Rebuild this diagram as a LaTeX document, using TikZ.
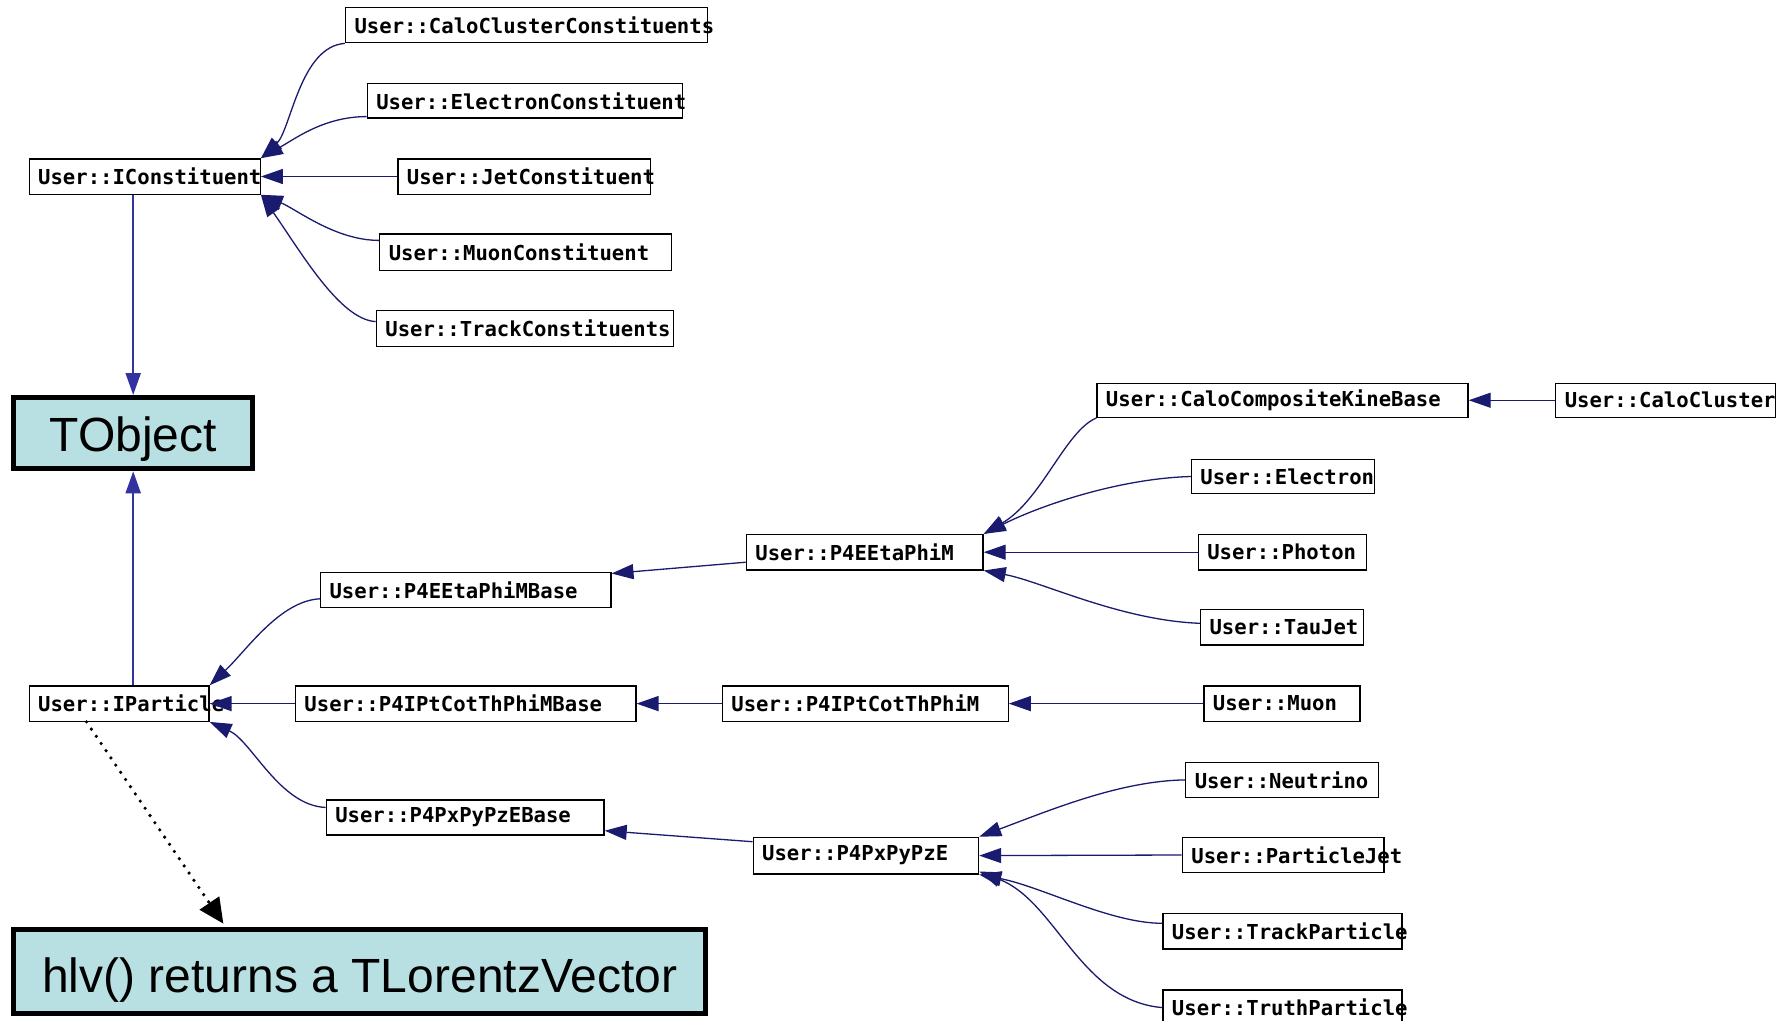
\documentclass[tikz,border=0pt]{standalone}
\usepackage{fontspec}
\setmainfont{Liberation Sans}
\newfontfamily\clsfont{DejaVu Sans Mono}
\usetikzlibrary{arrows.meta}
\definecolor{navyline}{HTML}{1A1A6E}
\definecolor{tobjline}{HTML}{3333A0}
\definecolor{cyanfill}{HTML}{B8E0E3}
\tikzset{
  clsbox/.style={draw=black, line width=1.3pt, fill=white, inner xsep=9pt, inner ysep=1pt,
    font=\clsfont\bfseries\fontsize{20.6}{22}\selectfont},
  bigbox/.style={draw=black, line width=5pt, fill=cyanfill, inner sep=0pt,
    font=\fontsize{48}{50}\selectfont},
  inh/.style={draw=navyline, line width=1.3pt, -{Triangle[length=22pt,width=15pt]}, navyline},
  toobj/.style={draw=tobjline, line width=2.2pt, -{Triangle[length=22pt,width=15pt]}, tobjline},
  dotarrow/.style={draw=black, line width=3.6pt, line cap=round, dash pattern=on 0pt off 8.7pt,
    -{Triangle[length=25pt,width=23pt]}}
}
\newcommand\cls[6]{%
  \node[clsbox, minimum width={#4-#2}, minimum height={#5-#3}, anchor=north west]
    (#1) at (#2,#3) {\makebox[\dimexpr #4pt-#2pt-18pt\relax][l]{#6}};}
\begin{document}
\begin{tikzpicture}[x=1pt,y=-1pt]
\useasboundingbox (0,0) rectangle (1785,1020);
\fill[white] (0,0) rectangle (1785,1020);

% big boxes
\node[bigbox, minimum width=238.6, minimum height=71.3] (tobj) at (133.2,433.15) {\raisebox{-18.3pt}[0pt][0pt]{TObject}};
\node[bigbox, minimum width=691.7, minimum height=83.8] (hlv) at (359.75,971.1) {\raisebox{-20.9pt}[0pt][0pt]{hlv() returns a TLorentzVector}};

% class boxes
\cls{ccc}{344.9}{6.8}{706.9}{42.1}{User::CaloClusterConstituents}
\cls{ecn}{366.6}{83.1}{681.9}{117.3}{User::ElectronConstituent}
\cls{icon}{28.5}{158.2}{259.6}{193.5}{User::IConstituent}
\cls{jcn}{397.3}{158.2}{650.0}{193.5}{User::JetConstituent}
\cls{mcn}{379.1}{233.4}{670.5}{269.8}{User::MuonConstituent}
\cls{tcn}{375.7}{309.6}{672.8}{346.1}{User::TrackConstituents}
\cls{cckb}{1096.3}{382.5}{1467.4}{416.7}{User::CaloCompositeKineBase}
\cls{ccl}{1555.1}{382.5}{1774.8}{416.7}{User::CaloCluster}
\cls{ele}{1190.8}{458.8}{1374.1}{492.9}{User::Electron}
\cls{p4e}{745.7}{533.9}{982.4}{569.2}{User::P4EEtaPhiM}
\cls{pho}{1197.6}{533.9}{1366.1}{569.2}{User::Photon}
\cls{p4eb}{319.9}{571.5}{610.2}{606.8}{User::P4EEtaPhiMBase}
\cls{tau}{1199.9}{609.0}{1362.7}{644.3}{User::TauJet}
\cls{ipart}{28.5}{685.3}{208.3}{720.6}{User::IParticle}
\cls{p4ib}{294.8}{685.3}{635.2}{720.6}{User::P4IPtCotThPhiMBase}
\cls{p4i}{721.7}{685.3}{1007.5}{720.6}{User::P4IPtCotThPhiM}
\cls{muon}{1203.3}{685.3}{1359.3}{720.6}{User::Muon}
\cls{neu}{1185.1}{761.6}{1377.5}{796.9}{User::Neutrino}
\cls{p4pb}{325.6}{799.2}{603.4}{834.4}{User::P4PxPyPzEBase}
\cls{p4p}{752.5}{836.7}{977.9}{873.2}{User::P4PxPyPzE}
\cls{pjet}{1181.7}{836.7}{1383.2}{872.0}{User::ParticleJet}
\cls{tpart}{1162.3}{913.0}{1401.4}{948.3}{User::TrackParticle}
\cls{trpart}{1162.3}{989.3}{1401.4}{1024.6}{User::TruthParticle}

% TObject connectors
\draw[toobj] (tobj.north |- icon.south) -- (tobj.north);
\draw[toobj] (tobj.south |- ipart.north) -- (tobj.south);
\draw[dotarrow] ([xshift=58pt]ipart.south west) -- ([xshift=212pt,yshift=3pt]hlv.north west);

% IConstituent children
\draw[inh] (ccc.south west) .. controls +(-45,3) and +(30,-28) .. (icon.north east);
\draw[inh] ([yshift=2pt]ecn.south west) .. controls +(-42,0) and +(35,-20) .. (icon.north east);
\draw[inh] (jcn.west) -- (icon.east);
\draw[inh] ([yshift=-7pt]mcn.north west) .. controls +(-44,0) and +(35,14) .. (icon.south east);
\draw[inh] ([yshift=-12pt]tcn.north west) .. controls +(-36,-2) and +(40,57) .. (icon.south east);

% P4EEtaPhiM children
\draw[inh] (cckb.south west) .. controls +(-31,13) and +(58,-34) .. (p4e.north east);
\draw[inh] (ele.west) .. controls +(-71,2) and +(58,-29) .. (p4e.north east);
\draw[inh] (pho.west) -- (p4e.east);
\draw[inh] ([yshift=4pt]tau.west) .. controls +(-80,-3) and +(58,11) .. (p4e.south east);
\draw[inh] (ccl.west) -- (cckb.east);

% second level
\draw[inh] ([yshift=-10pt]p4e.west) -- ([yshift=-2pt]p4eb.north east);
\draw[inh] (p4i.west) -- (p4ib.east);
\draw[inh] (muon.west) -- (p4i.east);
\draw[inh] ([yshift=-5pt]p4p.north west) -- ([yshift=5pt]p4pb.south east);

% IParticle children
\draw[inh] ([yshift=-9pt]p4eb.west) .. controls +(-40,2) and +(37,-35) .. (ipart.north east);
\draw[inh] (p4ib.west) -- (ipart.east);
\draw[inh] ([yshift=10pt]p4pb.west) .. controls +(-46,-2) and +(42,19) .. (ipart.south east);

% P4PxPyPzE children
\draw[inh] (neu.west) .. controls +(-65,1) and +(72,-27) .. (p4p.north east);
\draw[inh] (pjet.west) -- (p4p.east);
\draw[inh] ([yshift=8pt]tpart.west) .. controls +(-52,0) and +(62,12) .. (p4p.south east);
\draw[inh] (trpart.west) .. controls +(-82,-7) and +(77,30) .. ([yshift=3pt]p4p.south east);
\end{tikzpicture}
\end{document}
